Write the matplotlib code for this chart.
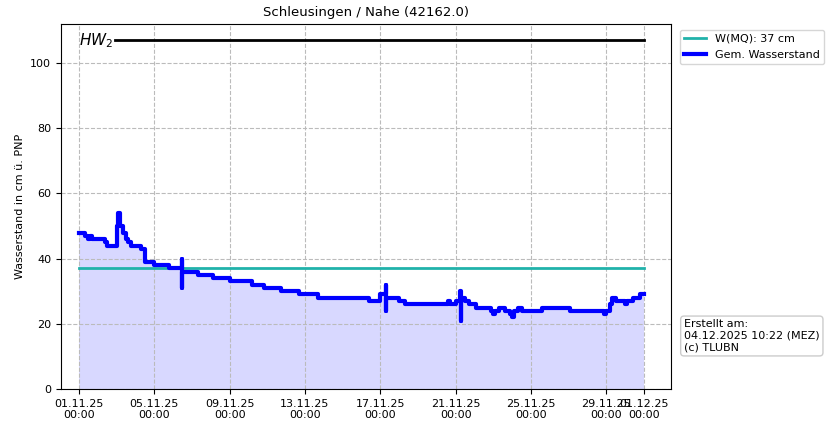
import numpy as np
import matplotlib.pyplot as plt
import matplotlib.dates as mdates
from datetime import datetime, timedelta

start = datetime(2025, 11, 1)
# (day offset, cm) breakpoints of the stepped gauge series
days = [0, 0.3, 0.5, 0.6, 0.7, 1.4, 1.5, 1.9, 2.0, 2.05, 2.2, 2.35, 2.5, 2.6, 2.75,
        3.3, 3.5, 4.0, 4.8, 5.45, 5.46, 5.47, 6.3, 7.1, 8.0, 9.2, 9.8, 10.7, 11.7,
        12.7, 15.4, 16.0, 16.3, 16.31, 16.32, 16.5, 17.0, 17.3, 19.6, 19.7, 20.0,
        20.25, 20.26, 20.27, 20.5, 20.7, 21.1, 21.9, 22.0, 22.1, 22.3, 22.6, 22.9,
        23.0, 23.1, 23.3, 23.5, 24.6, 26.1, 27.9, 28.0, 28.2, 28.3, 28.5, 29.0,
        29.1, 29.4, 29.8, 30.0]
level = [48, 47, 46, 47, 46, 45, 44, 44, 50, 54, 50, 48, 46, 45, 44,
         43, 39, 38, 37, 40, 31, 36, 35, 34, 33, 32, 31, 30, 29,
         28, 27, 29, 32, 24, 28, 28, 27, 26, 27, 26, 27,
         30, 21, 28, 27, 26, 25, 24, 23, 24, 25, 24, 23,
         22, 24, 25, 24, 25, 24, 23, 24, 26, 28, 27, 26,
         27, 28, 29, 29]
mq_value = 37
hw2_value = 107

times = [start + timedelta(days=d) for d in days]
end = start + timedelta(days=30)

fig = plt.figure(figsize=(8.29, 4.26), dpi=100)
ax = fig.add_axes([61 / 829, 1 - 389 / 426, 610 / 829, 365 / 426])

ax.fill_between(times, level, step='post', color='#d8d8ff', lw=0)
ax.plot([start, end], [mq_value, mq_value], color='#20b2aa', lw=2, label='W(MQ): 37 cm')
ax.step(times, level, where='post', color='blue', lw=3, label='Gem. Wasserstand')
ax.plot([start + timedelta(days=1.9), end], [hw2_value, hw2_value], color='black', lw=2)
ax.text(start, hw2_value, '$HW_2$', fontsize=11, va='center', ha='left')

ax.set_ylim(0, 112)
ax.set_xlim(start - timedelta(days=0.96), start + timedelta(days=31.44))
ticks = [start + timedelta(days=4 * i) for i in range(8)] + [end]
ax.set_xticks(ticks)
ax.xaxis.set_major_formatter(mdates.DateFormatter('%d.%m.%y\n%H:%M'))
ax.tick_params(labelsize=8)
ax.grid(True, ls='--', color='#bbbbbb')
ax.set_ylabel('Wasserstand in cm ü. PNP', fontsize=8)
ax.set_title('Schleusingen / Nahe (42162.0)', fontsize=9.5)
ax.legend(loc='upper left', bbox_to_anchor=(1.005, 1.0), fontsize=8)

fig.text(684 / 829, 1 - 336 / 426, 'Erstellt am:\n04.12.2025 10:22 (MEZ)\n(c) TLUBN',
         fontsize=8, va='center',
         bbox=dict(boxstyle='round', fc='white', ec='#cccccc'))

fig.savefig('out.png', dpi=100)
